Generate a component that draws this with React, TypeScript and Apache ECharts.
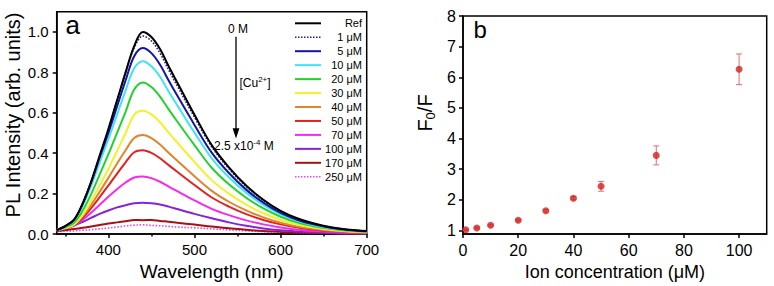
import React, { useEffect, useRef } from "react";
import * as echarts from "echarts";

// ---------- Panel a: PL spectra ----------
const wavelengths = [340, 350, 360, 370, 380, 390, 400, 410, 420, 430, 440, 450, 460, 470, 480, 500, 520, 540, 560, 580, 600, 620, 640, 660, 680, 700];

const seriesNames = ["Ref", "1 μM", "5 μM", "10 μM", "20 μM", "30 μM", "40 μM", "50 μM", "70 μM", "100 μM", "170 μM", "250 μM"];
const seriesColors = ["#000000", "#22228a", "#1414a8", "#3fe3f2", "#22d22a", "#f2f22a", "#e2842e", "#e22222", "#f22af2", "#8424d6", "#a41212", "#e64ce6"];
const seriesDash = ["solid", "dotted", "solid", "solid", "solid", "solid", "solid", "solid", "solid", "solid", "solid", "dotted"];

const ref = [0.02, 0.04, 0.07, 0.15, 0.26, 0.39, 0.52, 0.66, 0.8, 0.93, 1.0, 0.975, 0.915, 0.83, 0.75, 0.59, 0.44, 0.33, 0.24, 0.17, 0.115, 0.077, 0.051, 0.033, 0.022, 0.015];
const c1 = [0.02, 0.04, 0.07, 0.15, 0.26, 0.39, 0.52, 0.66, 0.8, 0.92, 0.98, 0.955, 0.895, 0.812, 0.733, 0.578, 0.432, 0.323, 0.235, 0.166, 0.112, 0.075, 0.05, 0.032, 0.021, 0.015];
const c5 = [0.02, 0.04, 0.07, 0.148, 0.255, 0.38, 0.5, 0.63, 0.76, 0.88, 0.92, 0.895, 0.838, 0.76, 0.685, 0.54, 0.403, 0.302, 0.22, 0.156, 0.105, 0.07, 0.047, 0.03, 0.02, 0.014];
const c10 = [0.02, 0.038, 0.066, 0.138, 0.24, 0.355, 0.47, 0.59, 0.71, 0.82, 0.855, 0.83, 0.778, 0.705, 0.637, 0.502, 0.375, 0.281, 0.205, 0.145, 0.098, 0.065, 0.043, 0.028, 0.019, 0.013];
const c20 = [0.02, 0.034, 0.056, 0.115, 0.198, 0.295, 0.395, 0.5, 0.605, 0.715, 0.75, 0.728, 0.68, 0.617, 0.557, 0.44, 0.328, 0.246, 0.18, 0.127, 0.086, 0.057, 0.038, 0.025, 0.016, 0.011];
const c30 = [0.02, 0.03, 0.047, 0.094, 0.162, 0.24, 0.322, 0.41, 0.5, 0.59, 0.61, 0.592, 0.553, 0.502, 0.453, 0.357, 0.267, 0.2, 0.146, 0.103, 0.07, 0.047, 0.031, 0.02, 0.013, 0.009];
const c40 = [0.02, 0.03, 0.048, 0.088, 0.145, 0.21, 0.278, 0.348, 0.415, 0.475, 0.49, 0.475, 0.443, 0.402, 0.363, 0.286, 0.214, 0.16, 0.117, 0.083, 0.056, 0.037, 0.025, 0.016, 0.011, 0.008];
const c50 = [0.02, 0.03, 0.045, 0.08, 0.128, 0.183, 0.24, 0.298, 0.355, 0.405, 0.415, 0.402, 0.375, 0.341, 0.308, 0.243, 0.181, 0.136, 0.099, 0.07, 0.048, 0.032, 0.021, 0.014, 0.009, 0.007];
const c70 = [0.02, 0.028, 0.042, 0.07, 0.105, 0.145, 0.185, 0.222, 0.255, 0.28, 0.285, 0.277, 0.259, 0.235, 0.212, 0.167, 0.125, 0.094, 0.068, 0.048, 0.033, 0.022, 0.015, 0.01, 0.007, 0.005];
const c100 = [0.02, 0.028, 0.042, 0.06, 0.08, 0.1, 0.117, 0.132, 0.143, 0.153, 0.155, 0.152, 0.146, 0.136, 0.124, 0.1, 0.078, 0.058, 0.041, 0.028, 0.019, 0.013, 0.009, 0.006, 0.004, 0.003];
const c170 = [0.015, 0.02, 0.025, 0.031, 0.038, 0.045, 0.052, 0.058, 0.064, 0.07, 0.069, 0.07, 0.065, 0.061, 0.056, 0.047, 0.037, 0.029, 0.021, 0.015, 0.011, 0.008, 0.006, 0.004, 0.003, 0.003];
const c250 = [0.012, 0.014, 0.016, 0.019, 0.022, 0.026, 0.03, 0.035, 0.04, 0.044, 0.046, 0.043, 0.041, 0.038, 0.035, 0.031, 0.026, 0.021, 0.016, 0.012, 0.009, 0.007, 0.005, 0.004, 0.003, 0.003];
const spectra = [ref, c1, c5, c10, c20, c30, c40, c50, c70, c100, c170, c250];

const xTicksA = [400, 500, 600, 700];
const xMinorTicksA = [350, 450, 550, 650];
const yTicksA = [0, 0.2, 0.4, 0.6, 0.8, 1.0];

// ---------- Panel b: F0/F ----------
const concentrations = [1, 5, 10, 20, 30, 40, 50, 70, 100];
const f0f = [1.02, 1.08, 1.17, 1.33, 1.64, 2.05, 2.44, 3.45, 6.26];
const f0fErr = [0.02, 0.03, 0.03, 0.03, 0.04, 0.05, 0.16, 0.31, 0.5];
const xTicksB = [0, 20, 40, 60, 80, 100];
const yTicksB = [1, 2, 3, 4, 5, 6, 7, 8];

const FONT = "Liberation Sans, Arial, Helvetica, sans-serif";

export default function App() {
  const ref1 = useRef<HTMLDivElement>(null);

  useEffect(() => {
    if (!ref1.current) return;
    const chart = echarts.init(ref1.current, undefined, { renderer: "svg" });

    const axisLine = { show: true, lineStyle: { color: "#000", width: 1.5 } };
    const tickStyle = { color: "#000", width: 1.5 };
    const labelBase = { color: "#000", fontSize: 15, fontFamily: FONT, margin: 8 };

    const lineSeries = spectra.map((vals, i) => ({
      type: "line",
      name: seriesNames[i],
      xAxisIndex: 0,
      yAxisIndex: 0,
      data: wavelengths.map((w, j) => [w, vals[j]]),
      showSymbol: false,
      symbol: "none",
      smooth: 0.35,
      lineStyle: {
        color: seriesColors[i],
        width: seriesDash[i] === "dotted" ? 1.6 : 2,
        type: seriesDash[i],
      },
      z: 2 + (spectra.length - i) * 0.01,
    }));

    const legendTop = 23.3;
    const legendStep = 13.95;
    const legendGraphics: any[] = [];
    seriesNames.forEach((n, i) => {
      const y = legendTop + i * legendStep;
      legendGraphics.push({
        type: "line",
        shape: { x1: 295, y1: y, x2: 321, y2: y },
        style: {
          stroke: seriesColors[i],
          lineWidth: seriesDash[i] === "dotted" ? 1.6 : 2,
          lineDash: seriesDash[i] === "dotted" ? [1.5, 1.5] : null,
        },
      });
      legendGraphics.push({
        type: "text",
        x: 362,
        y: y,
        style: {
          text: n,
          fontSize: 11,
          fontFamily: FONT,
          fill: "#000",
          align: "right",
          verticalAlign: "middle",
        },
      });
    });

    const richSmall = {
      n: { fontSize: 12, fontFamily: FONT, lineHeight: 15, fill: "#000" },
      s: { fontSize: 8, fontFamily: FONT, lineHeight: 9, verticalAlign: "top", fill: "#000" },
    };

    const option: any = {
      animation: false,
      backgroundColor: "#fff",
      textStyle: { fontFamily: FONT },
      grid: [
        { left: 56.7, top: 11.7, right: 407.3, bottom: 48, show: true, borderColor: "#000", borderWidth: 1.5, backgroundColor: "transparent" },
        { left: 463, top: 16, right: 7.3, bottom: 48.3, show: true, borderColor: "#000", borderWidth: 1.5, backgroundColor: "transparent" },
      ],
      xAxis: [
        {
          type: "value",
          gridIndex: 0,
          position: "bottom",
          min: 340,
          max: 700,
          axisLine,
          axisTick: { show: true, inside: false, length: 4, customValues: xTicksA, lineStyle: tickStyle },
          axisLabel: { ...labelBase, customValues: xTicksA },
          splitLine: { show: false },
          name: "Wavelength (nm)",
          nameLocation: "middle",
          nameGap: 17,
          nameTextStyle: { fontSize: 19, color: "#000", fontFamily: FONT, verticalAlign: "top" },
        },
        {
          type: "value",
          gridIndex: 0,
          position: "bottom",
          min: 340,
          max: 700,
          axisLine: { show: false },
          axisTick: { show: true, inside: false, length: 2.5, customValues: xMinorTicksA, lineStyle: tickStyle },
          axisLabel: { show: false },
          splitLine: { show: false },
        },
        {
          type: "value",
          gridIndex: 1,
          position: "bottom",
          min: 0,
          max: 110,
          axisLine,
          axisTick: { show: true, inside: false, length: 4, customValues: xTicksB, lineStyle: tickStyle },
          axisLabel: { ...labelBase, fontSize: 16, customValues: xTicksB },
          splitLine: { show: false },
          name: "Ion concentration (μM)",
          nameLocation: "middle",
          nameGap: 22,
          nameTextStyle: { fontSize: 18, color: "#000", fontFamily: FONT, verticalAlign: "top" },
        },
      ],
      yAxis: [
        {
          type: "value",
          gridIndex: 0,
          min: 0,
          max: 1.1,
          axisLine,
          axisTick: { show: true, inside: false, length: 4, customValues: yTicksA, lineStyle: tickStyle },
          axisLabel: { ...labelBase, customValues: yTicksA, formatter: (v: number) => v.toFixed(1) },
          splitLine: { show: false },
        },
        {
          type: "value",
          gridIndex: 1,
          min: 0.88,
          max: 8,
          axisLine,
          axisTick: { show: true, inside: false, length: 4, customValues: yTicksB, lineStyle: tickStyle },
          axisLabel: { ...labelBase, fontSize: 16, margin: 7, customValues: yTicksB },
          splitLine: { show: false },
        },
      ],
      series: [
        ...lineSeries,
        {
          type: "custom",
          name: "err",
          xAxisIndex: 2,
          yAxisIndex: 1,
          data: concentrations.map((c, i) => [c, f0f[i], f0fErr[i]]),
          renderItem: (params: any, api: any) => {
            const x = api.value(0);
            const y = api.value(1);
            const e = api.value(2);
            const top = api.coord([x, y + e]);
            const bot = api.coord([x, y - e]);
            const hw = 3;
            const st = { stroke: "#e07070", lineWidth: 1 };
            return {
              type: "group",
              children: [
                { type: "line", shape: { x1: top[0], y1: top[1], x2: bot[0], y2: bot[1] }, style: st },
                { type: "line", shape: { x1: top[0] - hw, y1: top[1], x2: top[0] + hw, y2: top[1] }, style: st },
                { type: "line", shape: { x1: bot[0] - hw, y1: bot[1], x2: bot[0] + hw, y2: bot[1] }, style: st },
              ],
            };
          },
          z: 3,
        },
        {
          type: "scatter",
          name: "F0/F",
          xAxisIndex: 2,
          yAxisIndex: 1,
          data: concentrations.map((c, i) => [c, f0f[i]]),
          symbol: "circle",
          symbolSize: 7,
          itemStyle: { color: "#d42020" },
          z: 4,
        },
      ],
      graphic: [
        ...legendGraphics,
        // panel labels
        { type: "text", x: 65.6, y: 24.5, style: { text: "a", fontSize: 26, fontFamily: FONT, fill: "#000", align: "left", verticalAlign: "middle" } },
        { type: "text", x: 473.5, y: 29, style: { text: "b", fontSize: 24, fontFamily: FONT, fill: "#000", align: "left", verticalAlign: "middle" } },
        // y-axis titles
        { type: "text", x: 12.5, y: 115, rotation: Math.PI / 2, style: { text: "PL Intensity (arb. units)", fontSize: 20, fontFamily: FONT, fill: "#000", align: "center", verticalAlign: "middle" } },
        {
          type: "text",
          x: 425,
          y: 113,
          rotation: Math.PI / 2,
          style: {
            text: "{a|F}{b|0}{a|/F}",
            align: "center",
            verticalAlign: "middle",
            rich: {
              a: { fontSize: 20, fontFamily: FONT, lineHeight: 24, fill: "#000" },
              b: { fontSize: 13, fontFamily: FONT, lineHeight: 13, verticalAlign: "bottom", fill: "#000" },
            },
          },
        },
        // annotations
        { type: "text", x: 238, y: 29, style: { text: "0 M", fontSize: 12, fontFamily: FONT, fill: "#000", align: "center", verticalAlign: "middle" } },
        { type: "line", shape: { x1: 236, y1: 36.7, x2: 236, y2: 129 }, style: { stroke: "#000", lineWidth: 1.3 } },
        { type: "polygon", shape: { points: [[232.6, 128.3], [239.4, 128.3], [236, 138.5]] }, style: { fill: "#000" } },
        { type: "text", x: 239.5, y: 82.5, style: { text: "{n|[Cu}{s|2+}{n|]}", align: "left", verticalAlign: "middle", rich: richSmall } },
        { type: "text", x: 214, y: 145.5, style: { text: "{n|2.5 x10}{s|-4}{n| M}", align: "left", verticalAlign: "middle", rich: richSmall } },
      ],
    };

    chart.setOption(option);
    return () => chart.dispose();
  }, []);

  return (
    <div
      ref={ref1}
      style={{ position: "fixed", left: 0, top: 0, width: 774, height: 286, background: "#fff" }}
    />
  );
}
